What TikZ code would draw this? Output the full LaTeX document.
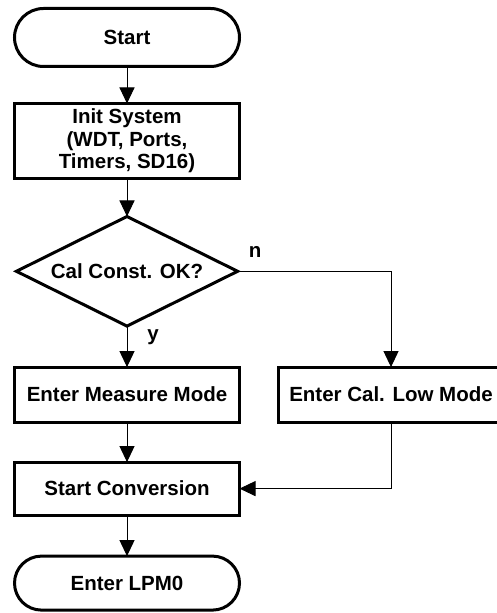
\documentclass[tikz,border=0pt]{standalone}
\usepackage{fontspec}
\setmainfont{Liberation Sans}
\usetikzlibrary{shapes.geometric, arrows.meta, positioning}

\begin{document}
\begin{tikzpicture}[
    node distance=20pt,
    every node/.style={font=\fontsize{10.25}{11.25}\selectfont\bfseries, outer sep=0pt},
    term/.style={rectangle, rounded corners=14.5pt, draw, line width=1.5pt, minimum width=112.5pt, minimum height=29pt, inner sep=0pt},
    box/.style={rectangle, draw, line width=1.5pt, minimum width=112.5pt, minimum height=27.5pt, inner sep=0pt, align=center},
    decision/.style={diamond, draw, line width=1.5pt, minimum width=110.6pt, minimum height=54.8pt, aspect=2, inner sep=0pt},
    arrow/.style={-{Triangle[width=7.5pt,length=8pt]}, line width=0.5pt}
  ]
    \useasboundingbox (0,0) rectangle (248pt,-306.5pt);
    \node[term] (start) at (63.5pt,-18.75pt) {Start};
    \node[box, below=18.5pt of start, minimum height=37.5pt] (init) {Init System\\(WDT, Ports,\\Timers, SD16)};
    \node[decision, below=19pt of init] (cal) {Cal Const. OK?};
    \node[box, below=20.5pt of cal] (measure) {Enter Measure Mode};
    \node[box, right=19.5pt of measure] (callow) {Enter Cal. Low Mode};
    \node[box, below=of measure, minimum height=26.5pt] (conv) {Start Conversion};
    \node[term, below=20.5pt of conv, minimum height=27pt, rounded corners=13.5pt] (lpm) {Enter LPM0};
    \node[above right=7pt and 5.6pt of cal.east, inner sep=0pt] (no) {n};
    \node[below right=1.65pt and 10.15pt of cal.south, inner sep=0pt] (yes) {y};
    \draw[arrow] (start) -- (init);
    \draw[arrow] (init) -- (cal);
    \draw[arrow] (cal) -- (measure);
    \draw[arrow] (cal.east) -| (callow.north);
    \draw[arrow] (measure) -- (conv);
    \draw[arrow] (callow.south) |- (conv.east);
    \draw[arrow] (conv) -- (lpm);
  \end{tikzpicture}
\end{document}
